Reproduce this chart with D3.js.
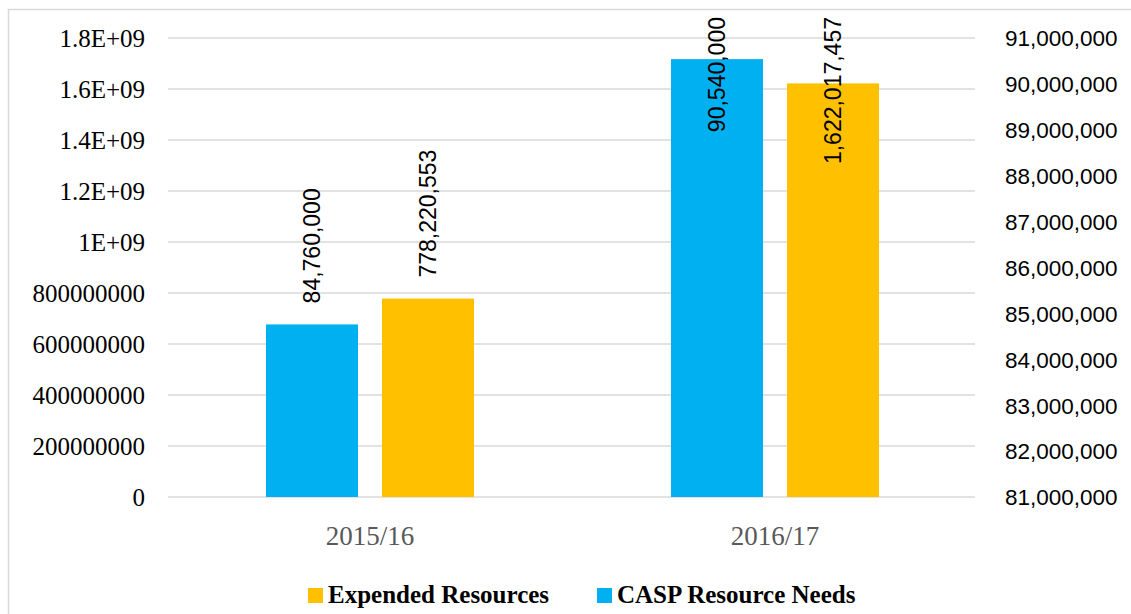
<!DOCTYPE html>
<html><head><meta charset="utf-8">
<script src="https://cdn.jsdelivr.net/npm/d3@7"></script>
<style>body{margin:0;background:#fff}svg{display:block}</style>
</head><body>
<svg id="c" width="1131" height="614"></svg>
<script>
const categories = ["2015/16", "2016/17"];
const caspNeeds = [84760000, 90540000];          // right axis
const expended = [778220553, 1622017457];        // left axis
const leftTicks = [0, 2e8, 4e8, 6e8, 8e8, 1e9, 1.2e9, 1.4e9, 1.6e9, 1.8e9];
const leftTickLabels = ["0","200000000","400000000","600000000","800000000","1E+09","1.2E+09","1.4E+09","1.6E+09","1.8E+09"];
const rightTicks = [81e6, 82e6, 83e6, 84e6, 85e6, 86e6, 87e6, 88e6, 89e6, 90e6, 91e6];
const seriesNames = ["CASP Resource Needs", "Expended Resources"];
const legendOrder = ["Expended Resources", "CASP Resource Needs"];
const colors = {"CASP Resource Needs": "#00B0F0", "Expended Resources": "#FFC000"};

const svg = d3.select("#c");
const L = 168, R = 975, T = 38, B = 497;
const serif = "'Liberation Serif', serif";
const sans = "'Liberation Sans', Arial, sans-serif";

svg.append("rect").attr("x", 8.5).attr("y", 9.5).attr("width", 1140).attr("height", 620)
  .attr("fill", "#fff").attr("stroke", "#d9d9d9").attr("stroke-width", 1.5);

const yL = d3.scaleLinear().domain([0, 1.8e9]).range([B, T]);
const yR = d3.scaleLinear().domain([81e6, 91e6]).range([B, T]);
const x0 = d3.scaleBand().domain(categories).range([167.5, 977.5]).padding(0);
const x1 = d3.scaleBand().domain(seriesNames).range([-104, 104]).paddingInner(0.207);

// gridlines
svg.append("g").selectAll("line").data(leftTicks).join("line")
  .attr("x1", L).attr("x2", R).attr("y1", d => yL(d)).attr("y2", d => yL(d))
  .attr("stroke", "#d9d9d9").attr("stroke-width", 1.5);

// left axis
const axL = d3.axisLeft(yL).tickValues(leftTicks).tickFormat((d, i) => leftTickLabels[i]).tickSize(0).tickPadding(0);
const gL = svg.append("g").attr("transform", "translate(145,0)").call(axL);
gL.select(".domain").remove();
gL.selectAll("text").attr("font-family", serif).attr("font-size", 25).attr("fill", "#000").attr("dy", "0.35em");

// right axis
const axR = d3.axisRight(yR).tickValues(rightTicks).tickFormat(d3.format(",")).tickSize(0).tickPadding(0);
const gR = svg.append("g").attr("transform", "translate(1005,0)").call(axR);
gR.select(".domain").remove();
gR.selectAll("text").attr("font-family", sans).attr("font-size", 22.5).attr("fill", "#000").attr("dy", "0.35em");

// x axis labels
const axX = d3.axisBottom(x0).tickSize(0).tickPadding(0);
const gX = svg.append("g").attr("transform", `translate(0,${B})`).call(axX);
gX.select(".domain").remove();
gX.selectAll("text").attr("font-family", serif).attr("font-size", 27).attr("fill", "#595959").attr("dy", null).attr("y", 48);

// bars
const rows = [];
categories.forEach((c, i) => {
  rows.push({c, s: "CASP Resource Needs", v: caspNeeds[i], y: yR});
  rows.push({c, s: "Expended Resources", v: expended[i], y: yL});
});
svg.append("g").selectAll("rect").data(rows).join("rect")
  .attr("x", d => x0(d.c) + x0.bandwidth() / 2 + x1(d.s))
  .attr("width", x1.bandwidth())
  .attr("y", d => d.y(d.v))
  .attr("height", d => B - d.y(d.v))
  .attr("fill", d => colors[d.s]);

// labels
const fmt = d3.format(",");
svg.append("g").selectAll("text").data(rows).join("text")
  .text(d => fmt(d.v))
  .attr("font-family", sans).attr("font-size", 23).attr("fill", "#000")
  .attr("text-anchor", "start").attr("dy", "0.35em")
  .each(function(d) {
    const len = this.getComputedTextLength();
    const cx = x0(d.c) + x0.bandwidth() / 2 + x1(d.s) + x1.bandwidth() / 2;
    let bottom = d.y(d.v) - 21;
    if (bottom - len < 17) bottom = 17 + len;
    d3.select(this).attr("transform", `translate(${cx},${bottom}) rotate(-90)`);
  });

// legend
const legX = {"Expended Resources": 308, "CASP Resource Needs": 597};
const lg = svg.append("g").selectAll("g").data(legendOrder).join("g")
  .attr("transform", d => `translate(${legX[d]},588)`);
lg.append("rect").attr("width", 15).attr("height", 15).attr("fill", d => colors[d]);
lg.append("text").text(d => d).attr("x", 20).attr("y", 15)
  .attr("font-family", serif).attr("font-weight", "bold").attr("font-size", 25).attr("fill", "#000");
</script>
</body></html>
